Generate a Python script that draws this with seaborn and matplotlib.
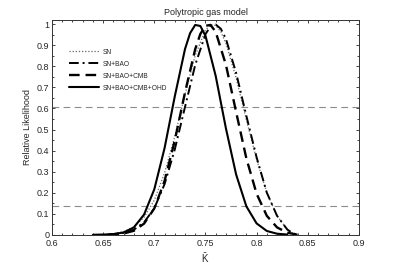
import pandas as pd
import matplotlib.pyplot as plt
import seaborn as sns

# values
k_sn = [0.655, 0.66, 0.67, 0.68, 0.69, 0.70, 0.71, 0.72, 0.73, 0.74, 0.75, 0.755,
        0.76, 0.765, 0.77, 0.78, 0.79, 0.80, 0.81, 0.82, 0.83, 0.835, 0.84]
l_sn = [0.0, 0.005, 0.015, 0.037, 0.083, 0.164, 0.293, 0.467, 0.667, 0.852, 0.973, 0.998,
        0.995, 0.965, 0.910, 0.745, 0.546, 0.358, 0.200, 0.090, 0.025, 0.008, 0.0]

k_bao = [0.655, 0.66, 0.67, 0.68, 0.69, 0.70, 0.71, 0.72, 0.73, 0.74, 0.75, 0.755,
         0.76, 0.765, 0.77, 0.78, 0.79, 0.80, 0.81, 0.82, 0.83, 0.835, 0.84]
l_bao = [0.0, 0.003, 0.009, 0.024, 0.059, 0.126, 0.240, 0.405, 0.607, 0.807, 0.953, 0.991,
         0.999, 0.979, 0.931, 0.769, 0.565, 0.368, 0.200, 0.090, 0.025, 0.008, 0.0]

k_cmb = [0.655, 0.66, 0.67, 0.68, 0.69, 0.70, 0.71, 0.72, 0.73, 0.74, 0.745, 0.75,
         0.755, 0.76, 0.77, 0.78, 0.79, 0.80, 0.81, 0.82, 0.83, 0.84]
l_cmb = [0.0, 0.002, 0.006, 0.019, 0.053, 0.125, 0.255, 0.447, 0.676, 0.882, 0.954, 0.993,
         0.997, 0.964, 0.808, 0.583, 0.363, 0.195, 0.090, 0.035, 0.010, 0.0]

k_ohd = [0.64, 0.65, 0.66, 0.67, 0.68, 0.69, 0.70, 0.71, 0.72, 0.73, 0.735, 0.74,
         0.745, 0.75, 0.76, 0.77, 0.78, 0.79, 0.80, 0.81, 0.82, 0.83]
l_ohd = [0.0, 0.001, 0.003, 0.011, 0.035, 0.096, 0.216, 0.411, 0.657, 0.882, 0.958, 0.997,
         0.992, 0.946, 0.755, 0.506, 0.286, 0.135, 0.054, 0.018, 0.005, 0.001]

levels = [0.607, 0.135]

sns.set_style("ticks")
plt.rcParams['font.family'] = ['Liberation Sans', 'DejaVu Sans']
plt.rcParams['mathtext.default'] = 'regular'

fig = plt.figure(figsize=(3.97, 2.68), dpi=100)
ax = fig.add_axes([0.131, 0.124, 0.773, 0.801])

for lev in levels:
    ax.axhline(lev, color='0.55', lw=0.8, ls=(0, (6, 4)), zorder=1)

sns.lineplot(x=k_sn, y=l_sn, ax=ax, color='0.4', lw=0.9, ls=(0, (1, 1.5)), label='SN')
sns.lineplot(x=k_bao, y=l_bao, ax=ax, color='black', lw=1.4, ls=(0, (5, 2, 1, 2)), label='SN+BAO')
sns.lineplot(x=k_cmb, y=l_cmb, ax=ax, color='black', lw=1.7, ls=(0, (4.5, 2.5)), label='SN+BAO+CMB')
sns.lineplot(x=k_ohd, y=l_ohd, ax=ax, color='black', lw=1.5, ls='-', label='SN+BAO+CMB+OHD')

ax.set_xlim(0.6, 0.9)
ax.set_ylim(0, 1.02)
ax.set_xticks([0.6, 0.65, 0.7, 0.75, 0.8, 0.85, 0.9])
ax.set_xticklabels(['0.6', '0.65', '0.7', '0.75', '0.8', '0.85', '0.9'])
ax.set_yticks([0, 0.1, 0.2, 0.3, 0.4, 0.5, 0.6, 0.7, 0.8, 0.9, 1.0])
ax.set_yticklabels(['0', '0.1', '0.2', '0.3', '0.4', '0.5', '0.6', '0.7', '0.8', '0.9', '1'])
ax.set_xticks([x / 100 for x in range(60, 91)], minor=True)
ax.set_yticks([y / 100 for y in range(0, 101, 5)], minor=True)
ax.tick_params(which='both', direction='in', top=True, right=True, labelsize=6.5, width=0.6)
ax.tick_params(which='major', length=2.5, pad=2)
ax.tick_params(axis='x', which='major', pad=3)
ax.tick_params(which='minor', length=1.3)
for s in ax.spines.values():
    s.set_linewidth(0.7)
    s.set_color('0.2')

ax.set_title('Polytropic gas model', fontsize=6.5, pad=4)
ax.set_xlabel(r'$\bar{K}$', fontsize=7, labelpad=2)
ax.set_ylabel('Relative Likelihood', fontsize=6.5, labelpad=3)

leg = ax.legend(loc='upper left', bbox_to_anchor=(0.035, 0.895), frameon=False, fontsize=4.8,
                handlelength=4.6, labelspacing=0.75, handletextpad=0.5)

plt.savefig('out.png', dpi=100)
